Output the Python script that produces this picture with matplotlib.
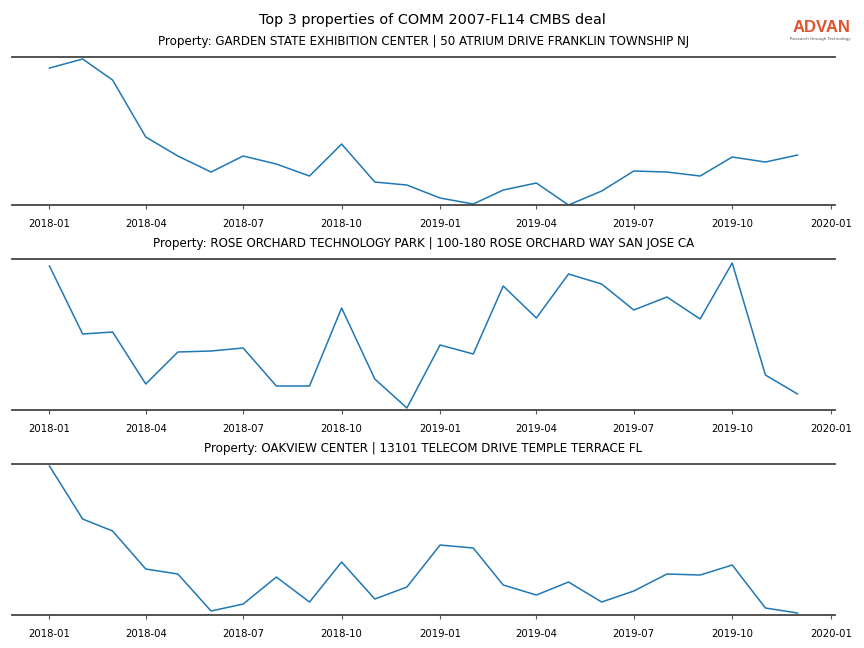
import numpy as np
import pandas as pd
import matplotlib
matplotlib.use("Agg")
import matplotlib.pyplot as plt
import matplotlib.dates as mdates

months = pd.date_range("2018-01-01", "2019-12-01", freq="MS")

titles = [
    "Property: GARDEN STATE EXHIBITION CENTER | 50 ATRIUM DRIVE FRANKLIN TOWNSHIP NJ",
    "Property: ROSE ORCHARD TECHNOLOGY PARK | 100-180 ROSE ORCHARD WAY SAN JOSE CA",
    "Property: OAKVIEW CENTER | 13101 TELECOM DRIVE TEMPLE TERRACE FL",
]

# values (relative units)
garden = [137, 146, 125, 68, 49, 33, 49, 41, 29, 61, 23, 20,
          7, 1, 15, 22, 0, 14, 34, 33, 29, 48, 43, 50]
rose = [144, 76, 78, 26, 58, 59, 62, 24, 24, 102, 31, 2,
        65, 56, 124, 92, 136, 126, 100, 113, 91, 147, 35, 16]
oakview = [149, 96, 84, 46, 41, 4, 11, 38, 13, 53, 16, 28,
           70, 67, 30, 20, 33, 13, 24, 41, 40, 50, 7, 2]

series = [garden, rose, oakview]
ylims = [(0, 148), (0, 151), (0, 151)]
# axes boxes [left, bottom, width, height] in figure fractions
boxes = [
    [0.0139, 0.6836, 0.9525, 0.2284],
    [0.0139, 0.3673, 0.9525, 0.2330],
    [0.0139, 0.0509, 0.9525, 0.2330],
]

fig = plt.figure(figsize=(8.64, 6.48), dpi=100, facecolor="white")
fig.text(0.5, 0.969, "Top 3 properties of COMM 2007-FL14 CMBS deal",
         ha="center", va="center", fontsize=10.4)

for vals, title, yl, box in zip(series, titles, ylims, boxes):
    ax = fig.add_axes(box)
    ax.plot(months, vals, color="#1f77b4", linewidth=1.1)
    ax.set_ylim(*yl)
    ax.set_title(title, fontsize=8.6, pad=8.5)
    ax.xaxis.set_major_locator(mdates.MonthLocator(bymonth=[1, 4, 7, 10]))
    ax.xaxis.set_major_formatter(mdates.DateFormatter("%Y-%m"))
    ax.set_xlim(pd.Timestamp("2017-11-27"), pd.Timestamp("2020-01-05"))
    ax.set_yticks([])
    for s in ("left", "right"):
        ax.spines[s].set_visible(False)
    for s in ("top", "bottom"):
        ax.spines[s].set_color("#444444")
        ax.spines[s].set_linewidth(1.3)
    ax.tick_params(axis="x", labelsize=7.3, length=3, color="#555555", pad=6.8)

# ADVAN logo
fig.text(0.984, 0.957, "ADVAN", ha="right", va="center", fontsize=12,
         color="#e0522b", fontfamily="Liberation Sans", fontweight="bold")
fig.text(0.984, 0.940, "Research through Technology", ha="right", va="center",
         fontsize=3, color="#555555")

fig.savefig("out.png", facecolor="white")
